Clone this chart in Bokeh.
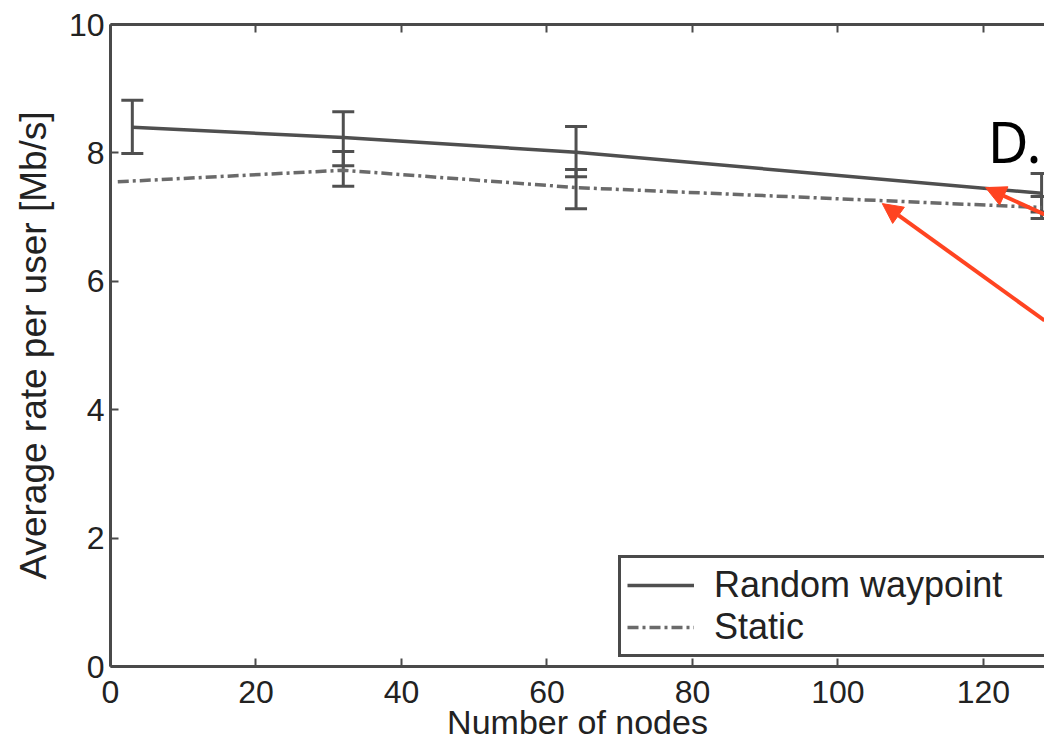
from bokeh.plotting import figure
from bokeh.models import (Range1d, LinearAxis, FixedTicker, Whisker, TeeHead, ColumnDataSource,
                          Legend, LegendItem, Arrow, NormalHead, Label, CustomJSTickFormatter)
from bokeh.embed import file_html
from bokeh.resources import INLINE

# ---- data ----
rw_x = [3, 32, 64, 128]
rw_y = [8.40, 8.24, 8.01, 7.37]
rw_upper = [8.82, 8.64, 8.41, 7.68]
rw_lower = [7.99, 7.80, 7.63, 7.08]

st_x = [1, 32, 64, 128]
st_y = [7.55, 7.73, 7.46, 7.15]
st_upper = [None, 8.02, 7.74, 7.32]
st_lower = [None, 7.48, 7.13, 6.98]

x_ticks = [0, 20, 40, 60, 80, 100, 120]
y_ticks = [0, 2, 4, 6, 8, 10]

# overlay annotations (red arrows and "D." mark)
arrow_tail_x = [128.4, 128.4]
arrow_tail_y = [7.04, 5.39]
arrow_tip_x = [120.3, 106.1]
arrow_tip_y = [7.46, 7.21]
mark_text = "D."
mark_x = 120.6
mark_y = 8.19

AX = "#4a4a4a"
TXT = "#222222"
FONT = "Liberation Sans"
RED = "#ff4421"

p = figure(width=1044, height=747, x_range=Range1d(0, 128.4), y_range=Range1d(0, 10),
           output_backend="svg", toolbar_location=None,
           min_border_left=110, min_border_right=0, min_border_top=24, min_border_bottom=81)
p.outline_line_color = None
p.xgrid.visible = False
p.ygrid.visible = False
p.background_fill_color = "white"
p.border_fill_color = "white"

def style_axis(ax, ticks):
    ax.ticker = FixedTicker(ticks=ticks)
    ax.axis_line_color = AX
    ax.axis_line_width = 3
    ax.major_tick_line_color = AX
    ax.major_tick_line_width = 2
    ax.major_tick_in = 8
    ax.major_tick_out = 0
    ax.minor_tick_line_color = None
    ax.major_label_text_font = FONT
    ax.major_label_text_color = TXT
    ax.major_label_text_font_size = "32px"
    ax.axis_label_text_font = FONT
    ax.axis_label_text_color = TXT
    ax.axis_label_text_font_style = "normal"

style_axis(p.xaxis[0], x_ticks)
style_axis(p.yaxis[0], y_ticks)
p.xaxis.axis_label = "Number of nodes"
p.xaxis.axis_label_text_font_size = "34px"
p.xaxis.major_label_standoff = 14
p.xaxis.axis_label_standoff = -3
p.yaxis.axis_label = "Average rate per user [Mb/s]"
p.yaxis.axis_label_text_font_size = "37px"
p.yaxis.major_label_standoff = 6
p.yaxis.axis_label_standoff = 12

top = LinearAxis(formatter=CustomJSTickFormatter(code="return ''"))
style_axis(top, x_ticks)
top.major_label_standoff = 0
p.add_layout(top, "above")

# lines
r1 = p.line(rw_x, rw_y, line_color="#4f4f4f", line_width=3.5)
r2 = p.line(st_x, st_y, line_color="#6a6a6a", line_width=3.5, line_dash="11 4 3 4")

# error bars
def whisk(xs, lo, hi, color):
    keep = [i for i in range(len(xs)) if lo[i] is not None]
    src = ColumnDataSource(dict(x=[xs[i] for i in keep], lower=[lo[i] for i in keep],
                                upper=[hi[i] for i in keep]))
    w = Whisker(base="x", lower="lower", upper="upper", source=src,
                line_color=color, line_width=3,
                upper_head=TeeHead(size=22, line_width=3, line_color=color),
                lower_head=TeeHead(size=22, line_width=3, line_color=color))
    p.add_layout(w)

whisk(rw_x, rw_lower, rw_upper, "#505050")
whisk(st_x, st_lower, st_upper, "#505050")

legend = Legend(items=[LegendItem(label="Random waypoint", renderers=[r1]),
                       LegendItem(label="Static", renderers=[r2])],
                location=(508, 9))
legend.border_line_color = AX
legend.border_line_alpha = 1
legend.border_line_width = 3
legend.background_fill_color = "white"
legend.background_fill_alpha = 1
legend.label_text_font = FONT
legend.label_text_font_size = "36px"
legend.label_text_color = TXT
legend.glyph_width = 67
legend.glyph_height = 36
legend.label_height = 36
legend.label_width = 326
legend.spacing = 0
legend.padding = 6
legend.label_standoff = 20
legend.margin = 0
p.add_layout(legend)

for i in range(len(arrow_tip_x)):
    p.add_layout(Arrow(x_start=arrow_tail_x[i], y_start=arrow_tail_y[i],
                       x_end=arrow_tip_x[i], y_end=arrow_tip_y[i],
                       line_color=RED, line_width=4,
                       end=NormalHead(size=20, fill_color=RED, line_color=RED, line_width=1)))

p.add_layout(Label(x=mark_x, y=mark_y, text=mark_text, text_font="Noto Sans",
                   text_font_size="56px", text_color="black", text_baseline="alphabetic"))

open("out.html", "w").write(file_html(p, INLINE))
